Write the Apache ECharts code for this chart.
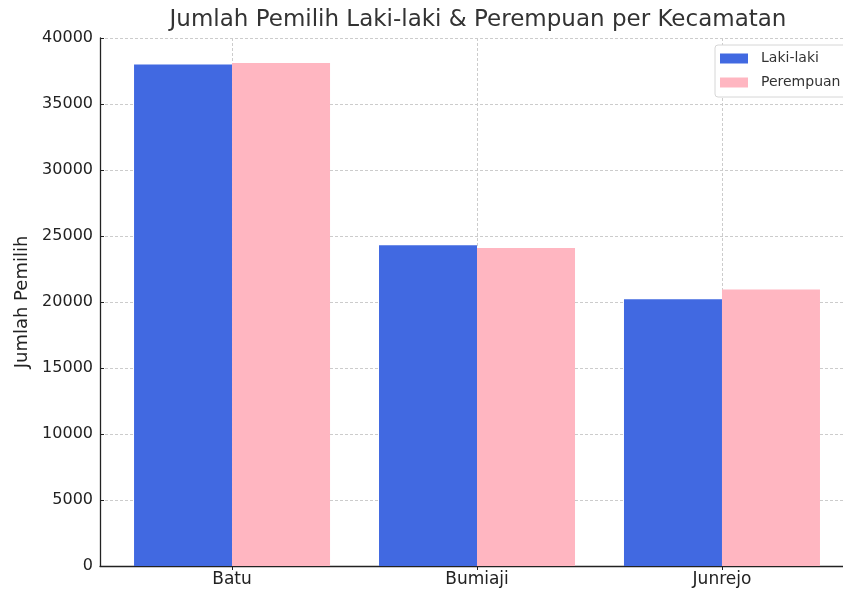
<!DOCTYPE html>
<html>
<head>
<meta charset="utf-8">
<script src="https://cdn.jsdelivr.net/npm/echarts@6/dist/echarts.min.js"></script>
<style>
html,body{margin:0;padding:0;background:#fff;}
#chart{width:843px;height:591px;}
</style>
</head>
<body>
<div id="chart"></div>
<script>
var kecamatan = ["Batu", "Bumiaji", "Junrejo"];
var lakiLaki = [38000, 24300, 20200];
var perempuan = [38100, 24100, 20950];

var toPairs = function(vals){
	var arr = [];
	for (var i = 0; i < vals.length; i++) {
		arr.push([i, vals[i]]);
	}
	return arr;
};
var catIdx = [];
for (var i = 0; i < kecamatan.length; i++) { catIdx.push(i); }

var font = "DejaVu Sans";
var chart = echarts.init(document.getElementById("chart"), null, {renderer: "canvas"});
var option = {
	animation: false,
	backgroundColor: "#ffffff",
	title: {
		text: "Jumlah Pemilih Laki-laki & Perempuan per Kecamatan",
		left: 473, top: 4, textAlign: "center",
		textStyle: {fontFamily: font, fontSize: 23, fontWeight: "normal", color: "#333333"}
	},
	legend: {
		orient: "vertical",
		left: 715, top: 45,
		icon: "rect",
		itemWidth: 28, itemHeight: 10, itemGap: 7,
		padding: [5, 8, 6, 5],
		borderColor: "#d6d6d6", borderWidth: 1, borderRadius: 3,
		backgroundColor: "#ffffff",
		textStyle: {fontFamily: font, fontSize: 14, color: "#333333", lineHeight: 17, padding: [0, 0, 0, 8]},
		data: ["Laki-laki", "Perempuan"]
	},
	// plot runs past the right edge in the original, so the axis ends early
	grid: {left: 100, right: 0, top: 38, bottom: 25},
	xAxis: {
		type: "value",
		min: -0.539, max: 2.494,
		axisLine: {show: true, onZero: false, lineStyle: {color: "#222222", width: 1.3}},
		axisTick: {show: true, customValues: catIdx, length: 4, lineStyle: {color: "#222222"}},
		axisLabel: {
			customValues: catIdx, margin: 5,
			fontFamily: font, fontSize: 17, color: "#222222",
			formatter: function(v){ return kecamatan[Math.round(v)]; }
		},
		splitLine: {show: true, lineStyle: {color: "#cccccc", type: [3, 2], width: 1}}
	},
	yAxis: {
		type: "value",
		min: 0, max: 40000, interval: 5000,
		name: "Jumlah Pemilih", nameLocation: "middle", nameGap: 67,
		nameTextStyle: {fontFamily: font, fontSize: 18, color: "#222222"},
		axisLine: {show: true, onZero: false, lineStyle: {color: "#222222", width: 1.3}},
		axisTick: {show: true, inside: true, length: 4, lineStyle: {color: "#222222"}},
		axisLabel: {fontFamily: font, fontSize: 16, color: "#222222", margin: 7,
			formatter: function(v){ return String(v); }},
		splitLine: {show: true, lineStyle: {color: "#cccccc", type: [3, 2], width: 1}}
	},
	series: [
		{name: "Laki-laki", type: "bar", data: toPairs(lakiLaki), barWidth: 98, barGap: "0%",
			itemStyle: {color: "#4169E1"}},
		{name: "Perempuan", type: "bar", data: toPairs(perempuan), barWidth: 98, barGap: "0%",
			itemStyle: {color: "#FFB6C1"}}
	]
};
chart.setOption(option);
</script>
</body>
</html>
